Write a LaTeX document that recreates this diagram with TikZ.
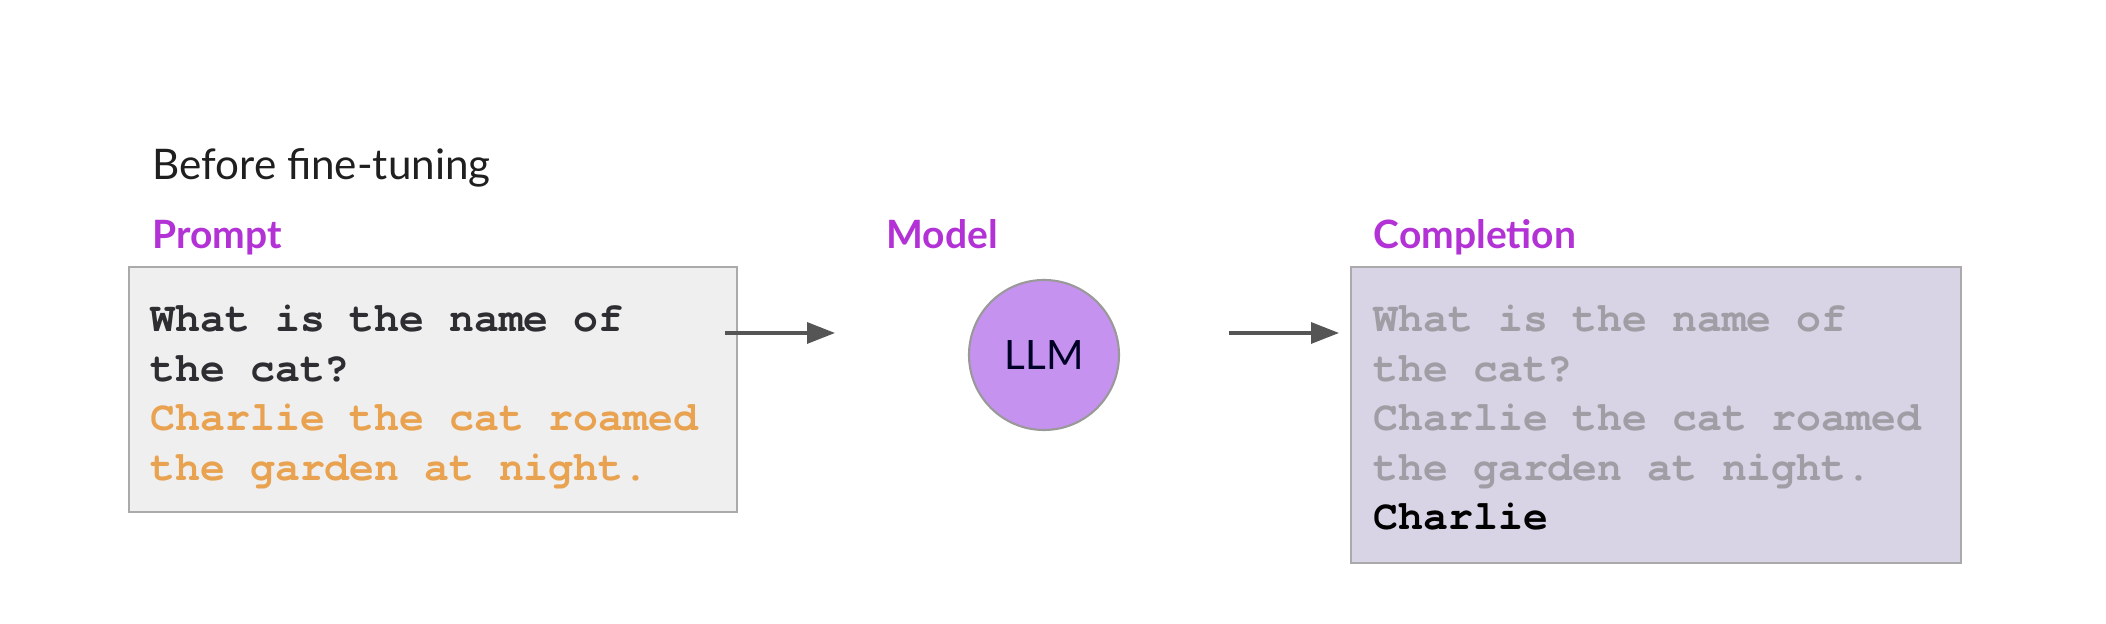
\documentclass[tikz,border=0pt]{standalone}
\usepackage{fontspec}
\setmainfont{Lato}
\setmonofont{TeX Gyre Cursor}
\usetikzlibrary{calc,arrows.meta}

\definecolor{labelpurple}{RGB}{178,50,214}
\definecolor{promptdark}{RGB}{45,45,50}
\definecolor{promptorange}{RGB}{232,162,80}
\definecolor{promptfill}{RGB}{239,239,239}
\definecolor{complfill}{RGB}{216,211,229}
\definecolor{complgray}{RGB}{160,158,164}
\definecolor{boxborder}{RGB}{170,170,170}
\definecolor{llmfill}{RGB}{198,146,240}
\definecolor{arrowgray}{RGB}{85,85,85}

\tikzset{
  colhead/.style={anchor=base west, inner sep=0pt, text=labelpurple,
    font=\bfseries\fontsize{11.1}{13}\selectfont},
  monoline/.style={anchor=base west, inner sep=0pt,
    font=\ttfamily\bfseries\fontsize{11.8}{14}\selectfont},
  textbox/.style={draw=boxborder, line width=0.7pt, inner sep=0pt},
  flow/.style={draw=arrowgray, line width=0.95pt,
    -{Triangle[length=0.28cm,width=0.21cm]}}
}

\begin{document}
\begin{tikzpicture}[x=1cm,y=1cm]
  \useasboundingbox (0,0) rectangle (21.06,6.24);

  %% Title and column heads
  \node[anchor=base west, inner sep=0pt, text=black!88,
    font=\fontsize{12}{14}\selectfont] (title) at (1.52,4.44) {Before fine-tuning};
  \node[colhead] (PROMPT) at (1.52,3.75) {Prompt};
  \node[colhead] (MODEL)  at (8.86,3.75) {Model};
  \node[colhead] (COMPL)  at (13.73,3.75) {Completion};

  %% The two boxes
  \node[textbox, fill=promptfill, minimum width=6.08cm, minimum height=2.45cm]
    (promptbox) at (4.33,2.345) {};
  \node[textbox, fill=complfill, minimum width=6.10cm, minimum height=2.96cm]
    (complbox) at (16.56,2.09) {};

  %% Prompt text, one line at a time
  \foreach \txt/\col [count=\i from 0] in {What is the name of/promptdark,
      the cat?/promptdark, Charlie the cat roamed/promptorange,
      the garden at night./promptorange}
  {
    \node[monoline, text=\col] (P\i) at (1.50,2.92-0.495*\i) {\txt};
  }

  %% Completion text
  \foreach \txt/\col [count=\i from 0] in {What is the name of/complgray,
      the cat?/complgray, Charlie the cat roamed/complgray,
      the garden at night./complgray, Charlie/black}
  {
    \node[monoline, text=\col] (C\i) at (13.73,2.92-0.495*\i) {\txt};
  }

  %% Model
  \node[circle, fill=llmfill, draw=boxborder!90!black, line width=0.6pt,
    minimum size=1.5cm, inner sep=0pt, text=black!85!blue,
    font=\fontsize{11.5}{13}\selectfont] (llm) at (10.44,2.69) {LLM};

  %% Arrows
  \coordinate (in1)  at (7.25,2.91);
  \coordinate (out1) at (8.35,2.91);
  \coordinate (in2)  at (12.29,2.91);
  \coordinate (out2) at (13.39,2.91);
  \draw[flow] (in1) -- (out1);
  \draw[flow] (in2) -- (out2);
\end{tikzpicture}
\end{document}
